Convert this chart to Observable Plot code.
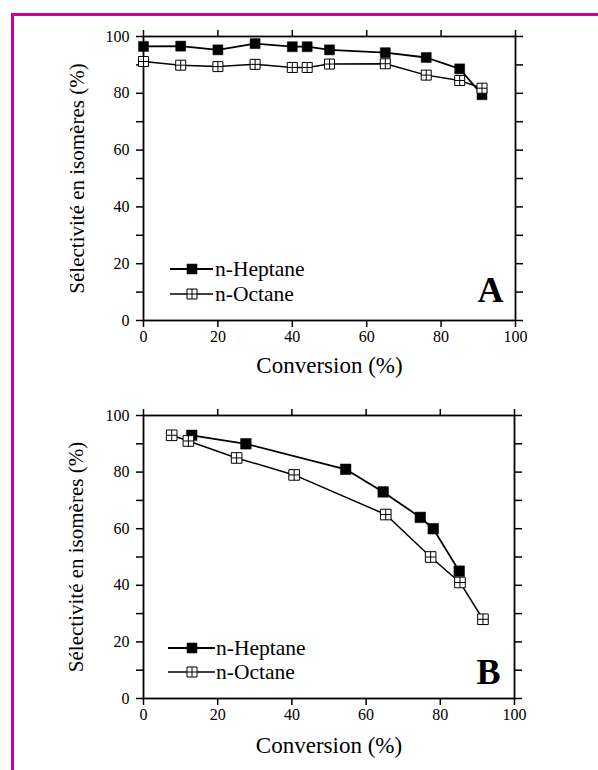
<!DOCTYPE html>
<html><head><meta charset="utf-8">
<script src="https://cdn.jsdelivr.net/npm/d3@7"></script>
<script src="https://cdn.jsdelivr.net/npm/@observablehq/plot@0.6"></script>
<style>
body{margin:0;background:#fff;}
#page{position:relative;width:598px;height:770px;overflow:hidden;font-family:'Times New Roman','Liberation Serif','DejaVu Serif',serif;}
#page svg, #page svg text{font-family:'Times New Roman','Liberation Serif','DejaVu Serif',serif !important;}
#border{position:absolute;left:11px;top:13px;right:-10px;bottom:-10px;border-left:3px solid #cc0099;border-top:3px solid #cc0099;}
.panel{position:absolute;left:0;}
</style></head><body>
<div id="page"><div id="border"></div><div id="pa" class="panel" style="top:0px"></div><div id="pb" class="panel" style="top:385px"></div></div>
<script>
// ---- Data ----
const seriesNames = ["n-Heptane", "n-Octane"];
const xTicks = [0, 20, 40, 60, 80, 100];
const yTicks = [0, 10, 20, 30, 40, 50, 60, 70, 80, 90, 100];

// Panel A
const heptaneA_conv = [0, 10, 20, 30, 40, 44, 50, 65, 76, 85, 91];
const heptaneA_sel  = [96.5, 96.6, 95.3, 97.5, 96.4, 96.4, 95.3, 94.3, 92.6, 88.6, 79.5];
const octaneA_conv  = [0, 10, 20, 30, 40, 44, 50, 65, 76, 85, 91];
const octaneA_sel   = [91.2, 89.9, 89.4, 90.2, 89.1, 89.1, 90.3, 90.4, 86.4, 84.5, 81.8];

// Panel B
const heptaneB_conv = [13, 27.6, 54.5, 64.6, 74.6, 78.1, 85.1];
const heptaneB_sel  = [93, 90, 81, 73, 64, 60, 45];
const octaneB_conv  = [7.6, 12.1, 25.1, 40.6, 65.3, 77.4, 85.3, 91.5];
const octaneB_sel   = [93, 91, 85, 79, 65, 50, 41, 28];

const xTitle = "Conversion (%)";
const yTitle = "Sélectivité en isomères (%)";
const FONT = "Times New Roman, Liberation Serif, DejaVu Serif, serif";

// ---- Symbols ----
const filledSquare = {draw(ctx, size){ const r = Math.sqrt(size/Math.PI); ctx.rect(-r,-r,2*r,2*r); }};
const crossSquare = {draw(ctx, size){ const r = Math.sqrt(size/Math.PI);
  ctx.rect(-r,-r,2*r,2*r); ctx.moveTo(0,-r); ctx.lineTo(0,r); ctx.moveTo(-r,0); ctx.lineTo(r,0); }};

const zip = (xs, ys) => xs.map((x,i)=>({x, y: ys[i]}));

function makePanel(opts){
  const {hept, oct, letter, mTop, mBottom, mLeft, mRight, xTitleDy, yTitleDx, letterDx, letterDy, r} = opts;
  const chart = Plot.plot({
    width: 598, height: 385,
    marginLeft: mLeft, marginRight: mRight, marginTop: mTop, marginBottom: mBottom,
    x: {domain: [0, 100]}, y: {domain: [0, 100]},
    style: {fontFamily: FONT, fontSize: "16px", color: "black", background: "transparent", overflow: "visible"},
    marks: [
      Plot.axisX({anchor: "bottom", ticks: xTicks, tickSize: 7, tickPadding: 3, tickFormat: d => String(d), label: null, strokeWidth: 1.5, fontSize: 16}),
      Plot.axisX({anchor: "top", ticks: xTicks, tickSize: 7, tickFormat: () => "", label: null, strokeWidth: 1.5}),
      Plot.axisY({anchor: "left", ticks: yTicks, tickSize: 7, tickPadding: 7, tickFormat: d => d % 20 === 0 ? String(d) : "", label: null, strokeWidth: 1.5, fontSize: 16}),
      Plot.axisY({anchor: "right", ticks: yTicks, tickSize: 7, tickFormat: () => "", label: null, strokeWidth: 1.5}),
      Plot.frame({stroke: "black", strokeWidth: 1.8}),
      Plot.line(hept, {x: "x", y: "y", stroke: "black", strokeWidth: 1.8}),
      Plot.dot(hept, {x: "x", y: "y", symbol: filledSquare, r: r, fill: "black", stroke: "black", strokeWidth: 0.5}),
      Plot.line(oct, {x: "x", y: "y", stroke: "black", strokeWidth: 1.5}),
      Plot.dot(oct, {x: "x", y: "y", symbol: crossSquare, r: r, fill: "white", stroke: "black", strokeWidth: 1}),
      Plot.text([xTitle], {text: d => d, frameAnchor: "bottom", textAnchor: "middle", dy: xTitleDy, fontSize: 23, lineAnchor: "middle"}),
      Plot.text([yTitle], {text: d => d, frameAnchor: "left", textAnchor: "middle", dx: yTitleDx, rotate: -90, fontSize: 21, lineAnchor: "middle"}),
      Plot.text([letter], {text: d => d, frameAnchor: "bottom-right", textAnchor: "end", lineAnchor: "middle", dx: letterDx, dy: letterDy, fontSize: 36, fontWeight: "bold"})
    ]
  });
  return chart;
}

function addLegend(svgNode, L){
  const svg = d3.select(svgNode);
  const g = svg.append("g").attr("font-family", FONT).attr("font-size", 21.5).attr("text-anchor", "start");
  const syms = [filledSquare, crossSquare];
  const fills = ["black", "white"];
  const widths = [1.8, 1.5];
  seriesNames.forEach((name, i) => {
    const y = L.rows[i];
    g.append("line").attr("x1", L.x1).attr("x2", L.x2).attr("y1", y).attr("y2", y).attr("stroke", "black").attr("stroke-width", widths[i]);
    g.append("path").attr("d", d3.symbol(syms[i], L.r*L.r*Math.PI)()).attr("transform", `translate(${L.mx},${y})`)
      .attr("fill", fills[i]).attr("stroke", "black").attr("stroke-width", i === 0 ? 0.5 : 1);
    g.append("text").attr("x", L.tx).attr("y", y).attr("dy", "0.32em").attr("text-anchor", "start").attr("fill", "black").text(name);
  });
}

const a = makePanel({hept: zip(heptaneA_conv, heptaneA_sel), oct: zip(octaneA_conv, octaneA_sel), letter: "A",
  mTop: 36, mBottom: 65, mLeft: 143, mRight: 83, xTitleDy: 45, yTitleDx: -66, letterDx: -12, letterDy: -30.5, r: 5});
document.getElementById("pa").appendChild(a);
addLegend(a, {rows: [269, 294], x1: 170, x2: 213, mx: 192, tx: 215, r: 5});

const b = makePanel({hept: zip(heptaneB_conv, heptaneB_sel), oct: zip(octaneB_conv, octaneB_sel), letter: "B",
  mTop: 30, mBottom: 72, mLeft: 143, mRight: 84, xTitleDy: 47, yTitleDx: -67, letterDx: -14, letterDy: -26.5, r: 5.3});
document.getElementById("pb").appendChild(b);
addLegend(b, {rows: [263, 287], x1: 168, x2: 215, mx: 192, tx: 216, r: 5});
</script>
</body></html>
